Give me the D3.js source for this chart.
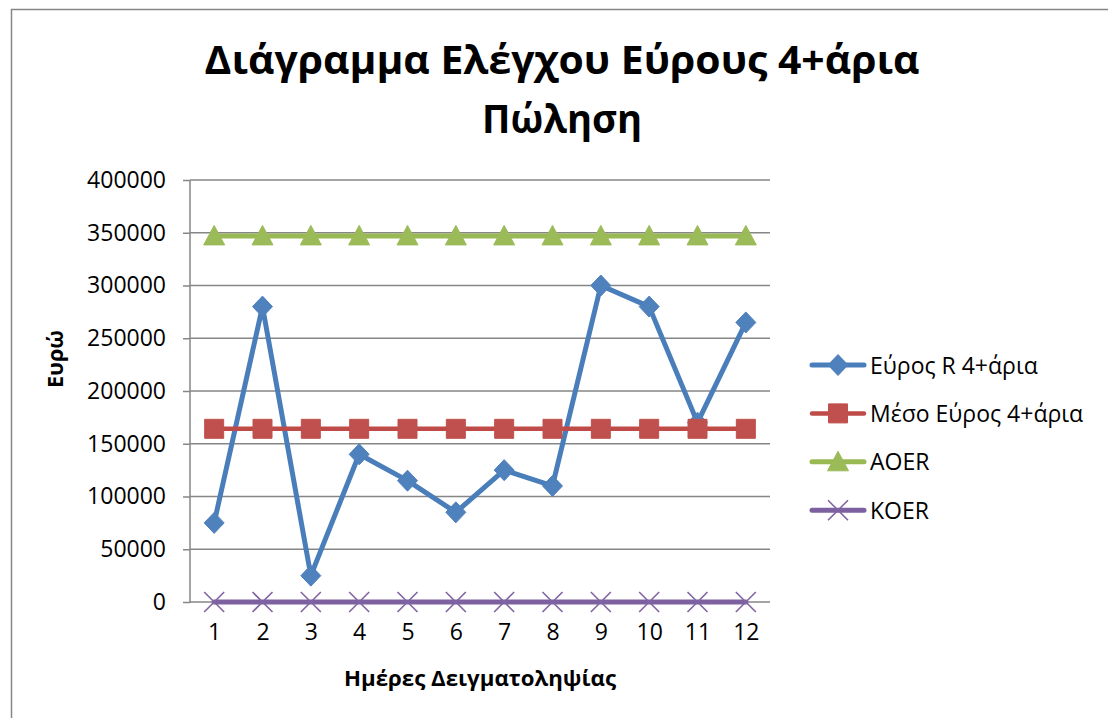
<!DOCTYPE html>
<html>
<head>
<meta charset="utf-8">
<script src="https://cdn.jsdelivr.net/npm/d3@7/dist/d3.min.js"></script>
<style>
  html, body { margin: 0; padding: 0; background: #fff; }
  svg { display: block; }
  text { font-family: "Open Sans", "Noto Sans", sans-serif; fill: #000; }
</style>
</head>
<body>
<svg id="chart" width="1108" height="718"></svg>
<script>
// Sampling days (category labels on the x axis)
const days = ["1", "2", "3", "4", "5", "6", "7", "8", "9", "10", "11", "12"];

// Range R of the 4-item sales for each day
const rangeR = [75000, 280000, 25000, 140000, 115000, 85000, 125000, 110000, 300000, 280000, 170000, 265000];
// Mean range (centre line)
const meanR = [164167, 164167, 164167, 164167, 164167, 164167, 164167, 164167, 164167, 164167, 164167, 164167];
// Upper control limit
const aoer = [347000, 347000, 347000, 347000, 347000, 347000, 347000, 347000, 347000, 347000, 347000, 347000];
// Lower control limit
const koer = [0, 0, 0, 0, 0, 0, 0, 0, 0, 0, 0, 0];

const yTicks = [0, 50000, 100000, 150000, 200000, 250000, 300000, 350000, 400000];

const seriesNames = ["Εύρος R 4+άρια", "Μέσο Εύρος 4+άρια", "AOER", "KOER"];
const titleLines = ["Διάγραμμα Ελέγχου Εύρους 4+άρια", "Πώληση"];
const xTitle = "Ημέρες Δειγματοληψίας";
const yTitle = "Ευρώ";

const svg = d3.select("#chart");

// plot area
const plot = { left: 190, right: 770, top: 180, bottom: 602 };

const x = d3.scalePoint().domain(days).range([plot.left, plot.right]).padding(0.5);
const y = d3.scaleLinear().domain([0, 400000]).range([plot.bottom, plot.top]);

// helper: set a text element to an exact rendered width
function setWidth(sel, target) {
  sel.attr("textLength", target).attr("lengthAdjust", "spacingAndGlyphs");
}

// outer chart frame
svg.append("rect")
  .attr("x", 11.5).attr("y", 9.5)
  .attr("width", 1300).attr("height", 900)
  .attr("fill", "none").attr("stroke", "#868686").attr("stroke-width", 1.5);

// title
const title = svg.append("g");
title.selectAll("text").data(titleLines).join("text")
  .attr("x", 562)
  .attr("y", (d, i) => 74 + i * 59)
  .attr("text-anchor", "middle")
  .attr("font-size", 39)
  .attr("font-weight", "bold")
  .text(d => d)
  .each(function (d, i) { setWidth(d3.select(this), i === 0 ? 715 : 160); });

// y axis with gridlines
const yAxis = d3.axisLeft(y).tickValues(yTicks).tickSize(7).tickPadding(17).tickFormat(d3.format("d"));
const yg = svg.append("g").attr("transform", `translate(${plot.left},0)`).call(yAxis);
yg.select(".domain").remove();
yg.selectAll(".tick line").attr("stroke", "#868686").attr("stroke-width", 1.5);
yg.selectAll(".tick text")
  .attr("font-size", 23)
  .attr("font-family", "'Open Sans', sans-serif")
  .attr("fill", "#000");

svg.append("g").selectAll("line").data(yTicks).join("line")
  .attr("x1", plot.left).attr("x2", plot.right)
  .attr("y1", d => y(d)).attr("y2", d => y(d))
  .attr("stroke", "#868686").attr("stroke-width", 1.5);

svg.append("line")
  .attr("x1", plot.left).attr("x2", plot.left)
  .attr("y1", plot.top).attr("y2", plot.bottom + 1)
  .attr("stroke", "#868686").attr("stroke-width", 1.5);

// x axis labels
const xAxis = d3.axisBottom(x).tickSize(0).tickPadding(22);
const xg = svg.append("g").attr("transform", `translate(0,${plot.bottom})`).call(xAxis);
xg.select(".domain").remove();
xg.selectAll(".tick text")
  .attr("font-size", 23)
  .attr("font-family", "'Open Sans', sans-serif")
  .attr("fill", "#000");

// axis titles
svg.append("text")
  .attr("x", (plot.left + plot.right) / 2).attr("y", 686)
  .attr("text-anchor", "middle")
  .attr("font-size", 22).attr("font-weight", "bold")
  .text(xTitle)
  .call(setWidth, 272);

svg.append("text")
  .attr("transform", "translate(63,359) rotate(-90)")
  .attr("text-anchor", "middle")
  .attr("font-size", 22).attr("font-weight", "bold")
  .text(yTitle)
  .call(setWidth, 58);

// marker shapes
const markers = {
  diamond: "M0,-10.5L10,0L0,10.5L-10,0Z",
  square: "M-9.5,-9.5H9.5V9.5H-9.5Z",
  triangle: "M0,-10.5L10.5,9L-10.5,9Z",
  cross: "M-10,-10L10,10M-10,10L10,-10"
};

const series = [
  { name: seriesNames[0], values: rangeR, line: "#4A7EBB", fill: "#4F81BD", marker: "diamond", width: 5 },
  { name: seriesNames[1], values: meanR, line: "#BE4B48", fill: "#C0504D", marker: "square", width: 4.5 },
  { name: seriesNames[2], values: aoer, line: "#98B954", fill: "#9BBB59", marker: "triangle", width: 5 },
  { name: seriesNames[3], values: koer, line: "#7D60A0", fill: "#8064A2", marker: "cross", width: 5 }
];

const lineGen = d3.line().x((d, i) => x(days[i])).y(d => y(d));

function drawMarker(g, s, cx, cy) {
  const p = g.append("path")
    .attr("transform", `translate(${cx},${cy})`)
    .attr("d", markers[s.marker]);
  if (s.marker === "cross") {
    p.attr("fill", "none").attr("stroke", s.fill).attr("stroke-width", 1.6);
  } else {
    p.attr("fill", s.fill).attr("stroke", s.fill).attr("stroke-width", 1);
  }
}

const seriesG = svg.append("g");
series.forEach(s => {
  const g = seriesG.append("g");
  g.append("path")
    .attr("d", lineGen(s.values))
    .attr("fill", "none")
    .attr("stroke", s.line)
    .attr("stroke-width", s.width)
    .attr("stroke-linejoin", "round")
    .attr("stroke-linecap", "round");
  s.values.forEach((v, i) => drawMarker(g, s, x(days[i]), y(v)));
});

// legend
const legend = svg.append("g");
series.forEach((s, i) => {
  const cy = 365 + i * 48.4;
  const g = legend.append("g");
  g.append("line")
    .attr("x1", 812).attr("x2", 864)
    .attr("y1", cy).attr("y2", cy)
    .attr("stroke", s.line).attr("stroke-width", s.width)
    .attr("stroke-linecap", "round");
  drawMarker(g, s, 838, cy);
  g.append("text")
    .attr("x", 870).attr("y", cy + 8.5)
    .attr("font-size", 23)
    .text(s.name);
});
</script>
</body>
</html>
